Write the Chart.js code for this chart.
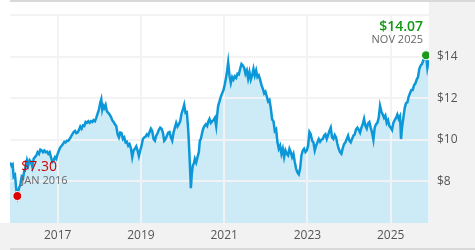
<!DOCTYPE html>
<html>
<head>
<meta charset="utf-8">
<script src="https://cdn.jsdelivr.net/npm/chart.js@4.4.1/dist/chart.umd.min.js"></script>
<style>
  html, body { margin: 0; padding: 0; background: #ffffff; }
  #wrap { width: 475px; height: 250px; }
</style>
</head>
<body>
<div id="wrap"><canvas id="c" width="475" height="250"></canvas></div>
<script>
// Decimal-year dates and prices
const dates = [
2015.856,2015.896,2015.920,2015.944,2015.976,2016.008,2016.032,2016.072,2016.104,2016.136,
2016.168,2016.200,2016.232,2016.264,2016.296,2016.328,2016.360,2016.392,2016.424,2016.456,
2016.488,2016.520,2016.552,2016.584,2016.616,2016.648,2016.680,2016.712,2016.744,2016.776,
2016.808,2016.840,2016.872,2016.904,2016.936,2016.968,2017.000,2017.032,2017.064,2017.096,
2017.128,2017.160,2017.192,2017.224,2017.256,2017.288,2017.320,2017.352,2017.384,2017.416,
2017.448,2017.480,2017.512,2017.544,2017.576,2017.608,2017.640,2017.672,2017.704,2017.736,
2017.768,2017.800,2017.832,2017.864,2017.896,2017.928,2017.960,2017.992,2018.024,2018.048,
2018.072,2018.096,2018.120,2018.152,2018.184,2018.216,2018.248,2018.280,2018.312,2018.344,
2018.376,2018.408,2018.440,2018.472,2018.504,2018.536,2018.568,2018.600,2018.632,2018.664,
2018.696,2018.728,2018.760,2018.792,2018.824,2018.856,2018.888,2018.920,2018.952,2018.984,
2019.016,2019.048,2019.080,2019.112,2019.144,2019.176,2019.208,2019.240,2019.272,2019.304,
2019.336,2019.368,2019.400,2019.432,2019.464,2019.496,2019.528,2019.560,2019.592,2019.624,
2019.656,2019.688,2019.720,2019.752,2019.784,2019.816,2019.848,2019.880,2019.912,2019.944,
2019.976,2020.008,2020.040,2020.072,2020.104,2020.136,2020.160,2020.184,2020.200,2020.224,
2020.248,2020.272,2020.296,2020.328,2020.360,2020.392,2020.416,2020.440,2020.472,2020.496,
2020.528,2020.560,2020.592,2020.616,2020.648,2020.680,2020.712,2020.744,2020.776,2020.808,
2020.832,2020.856,2020.888,2020.920,2020.952,2020.984,2021.016,2021.048,2021.072,2021.096,
2021.128,2021.160,2021.192,2021.224,2021.256,2021.288,2021.320,2021.352,2021.384,2021.416,
2021.448,2021.480,2021.512,2021.544,2021.576,2021.608,2021.640,2021.672,2021.704,2021.736,
2021.768,2021.800,2021.832,2021.864,2021.896,2021.928,2021.960,2021.992,2022.024,2022.056,
2022.088,2022.120,2022.152,2022.184,2022.216,2022.248,2022.280,2022.312,2022.344,2022.376,
2022.408,2022.440,2022.472,2022.504,2022.536,2022.568,2022.600,2022.632,2022.664,2022.696,
2022.728,2022.760,2022.792,2022.824,2022.856,2022.888,2022.920,2022.952,2022.984,2023.016,
2023.048,2023.080,2023.112,2023.144,2023.176,2023.208,2023.240,2023.272,2023.304,2023.336,
2023.368,2023.400,2023.432,2023.464,2023.496,2023.528,2023.560,2023.592,2023.624,2023.656,
2023.688,2023.720,2023.752,2023.784,2023.816,2023.848,2023.880,2023.912,2023.944,2023.976,
2024.008,2024.040,2024.072,2024.104,2024.136,2024.168,2024.200,2024.232,2024.264,2024.296,
2024.328,2024.360,2024.392,2024.424,2024.456,2024.488,2024.520,2024.552,2024.584,2024.616,
2024.648,2024.680,2024.712,2024.744,2024.776,2024.808,2024.840,2024.872,2024.904,2024.936,
2024.968,2025.000,2025.032,2025.064,2025.096,2025.128,2025.160,2025.192,2025.224,2025.248,
2025.272,2025.304,2025.336,2025.368,2025.400,2025.432,2025.464,2025.496,2025.528,2025.560,
2025.592,2025.624,2025.656,2025.688,2025.720,2025.752,2025.784,2025.816,2025.848,2025.880,
2025.912
];
const prices = [
8.91,8.75,8.81,8.23,8.31,7.60,7.30,7.68,7.84,8.23,
8.15,8.54,8.70,9.02,8.78,9.02,8.94,8.70,9.09,9.17,
9.25,9.41,9.33,9.53,9.49,9.41,9.49,9.41,9.44,9.33,
9.41,9.17,8.94,9.02,9.17,9.09,9.33,9.49,9.64,9.72,
9.80,9.91,9.88,9.96,9.96,10.04,10.16,10.27,10.38,10.43,
10.32,10.35,10.48,10.64,10.54,10.70,10.67,10.86,10.82,10.90,
10.82,10.90,10.86,10.95,10.90,11.06,11.26,11.45,11.80,11.96,
11.45,11.64,11.53,11.69,11.37,11.30,11.22,11.11,10.95,10.86,
10.75,10.67,10.27,10.12,10.35,10.32,10.04,10.12,9.88,9.91,
9.72,9.80,9.60,9.17,9.49,9.57,9.69,9.49,9.22,9.49,
9.72,10.04,10.12,10.16,10.27,10.20,10.38,10.54,10.43,10.04,
9.96,10.20,10.32,10.48,10.59,10.54,10.35,9.96,10.04,10.20,
10.35,10.38,10.12,9.96,10.35,10.59,10.82,10.64,10.75,10.90,
11.26,11.45,11.69,11.30,11.33,10.51,9.57,8.47,7.68,8.39,
8.78,8.86,9.09,8.91,9.17,9.41,9.96,10.04,10.35,10.54,
10.67,10.75,10.67,10.86,11.01,10.82,10.90,10.95,11.06,10.67,
11.22,11.64,11.85,12.08,12.24,12.40,12.68,13.02,13.34,13.73,
13.10,12.74,13.02,12.90,13.06,12.99,13.18,13.15,13.42,13.65,
13.58,13.47,13.18,13.34,12.95,13.26,12.90,13.10,13.42,13.10,
13.34,13.02,13.10,12.90,12.63,12.47,12.24,12.32,12.08,11.85,
11.92,11.53,10.98,10.90,10.43,10.51,9.88,9.57,9.72,9.33,
9.57,9.17,9.49,9.33,9.25,9.57,9.41,9.17,9.33,8.94,
8.62,8.43,8.34,8.62,9.25,9.49,9.57,9.41,9.49,9.72,
10.38,10.27,9.96,9.88,9.49,9.72,9.88,10.04,9.91,10.01,
10.04,10.20,10.27,10.04,10.23,10.43,10.59,10.12,10.04,10.23,
10.12,9.80,9.57,9.41,9.33,9.60,9.80,9.88,10.04,10.20,
9.96,9.88,10.04,10.20,10.27,10.51,10.59,10.48,10.35,10.59,
10.75,11.01,10.67,10.54,10.79,10.86,10.59,10.35,10.01,10.59,
10.75,10.82,11.06,11.64,11.37,11.22,11.06,11.17,10.82,10.95,
10.67,10.59,10.48,10.82,10.95,11.06,11.22,11.01,11.14,10.04,
10.59,11.06,11.53,11.77,11.80,12.08,12.24,12.40,12.40,12.63,
12.71,12.90,13.02,13.42,13.58,13.65,13.84,13.89,14.07,13.47,
13.84
];
const xTickYears = [2017, 2019, 2021, 2023, 2025];
const yTickValues = [8, 10, 12, 14];
const yGridValues = [8, 10, 12, 14, 16];
const xRange = [2015.856, 2025.92];
const yRange = [6, 16];
const lowLabel = ["$7.30", "JAN 2016"];
const highLabel = ["$14.07", "NOV 2025"];

const lowIdx = prices.indexOf(Math.min(...prices));
const highIdx = prices.indexOf(Math.max(...prices));
const points = dates.map((d, i) => ({ x: d, y: prices[i] }));

const FONT = "'Open Sans', 'Noto Sans', sans-serif";

const frame = {
  id: 'frame',
  beforeDraw(chart) {
    const ctx = chart.ctx, a = chart.chartArea, W = chart.width, H = chart.height;
    ctx.save();
    ctx.fillStyle = '#ffffff';
    ctx.fillRect(0, 0, W, H);
    ctx.fillStyle = '#f2f2f2';
    ctx.fillRect(a.right, 0, W - a.right, H);
    ctx.fillRect(0, a.bottom, W, H - a.bottom);
    ctx.fillStyle = '#d9d9d9';
    ctx.fillRect(a.left, 0, W - a.left, 2);
    ctx.fillRect(a.left, H - 2, W - a.left, 2);
    ctx.restore();
  },
  afterDatasetDraw(chart, args) {
    if (args.index !== 1) return;
    const ctx = chart.ctx, a = chart.chartArea;
    const xs = chart.scales.x, ys = chart.scales.y;
    ctx.save();
    ctx.strokeStyle = 'rgba(242,242,242,0.95)';
    ctx.lineWidth = 2;
    ctx.beginPath();
    yGridValues.forEach(v => {
      const y = Math.round(ys.getPixelForValue(v));
      ctx.moveTo(a.left, y); ctx.lineTo(a.right, y);
    });
    xTickYears.forEach(v => {
      const x = Math.round(xs.getPixelForValue(v));
      ctx.moveTo(x, a.top); ctx.lineTo(x, a.bottom);
    });
    ctx.stroke();
    ctx.restore();
  },
  afterDraw(chart) {
    const ctx = chart.ctx;
    const xs = chart.scales.x, ys = chart.scales.y;
    ctx.save();
    const hx = xs.getPixelForValue(dates[highIdx]);
    const hy = ys.getPixelForValue(prices[highIdx]);
    ctx.textAlign = 'right';
    ctx.textBaseline = 'alphabetic';
    ctx.fillStyle = '#129a12';
    ctx.font = '600 14px ' + FONT;
    ctx.fillText(highLabel[0], hx - 3, hy - 24);
    ctx.fillStyle = '#666666';
    ctx.font = '11px ' + FONT;
    ctx.fillText(highLabel[1], hx - 3, hy - 12);
    const lx = xs.getPixelForValue(dates[lowIdx]);
    const ly = ys.getPixelForValue(prices[lowIdx]);
    ctx.textAlign = 'left';
    ctx.fillStyle = '#d40000';
    ctx.font = '14px ' + FONT;
    ctx.fillText(lowLabel[0], lx + 4, ly - 25);
    ctx.fillStyle = '#666666';
    ctx.font = '11px ' + FONT;
    ctx.fillText(lowLabel[1], lx + 4, ly - 12);
    ctx.restore();
  }
};

new Chart(document.getElementById('c'), {
  type: 'line',
  data: {
    datasets: [
      {
        data: points,
        borderColor: '#0c98d8',
        borderWidth: 2.5,
        fill: false,
        tension: 0,
        pointRadius: ctx => (ctx.dataIndex === lowIdx || ctx.dataIndex === highIdx) ? 4.5 : 0,
        pointBackgroundColor: ctx => ctx.dataIndex === lowIdx ? '#dd0000' : '#1a9a1a',
        pointBorderColor: '#ffffff',
        pointBorderWidth: 1
      },
      {
        data: points,
        borderWidth: 0,
        borderColor: 'rgba(0,0,0,0)',
        backgroundColor: '#cdeaf7',
        fill: 'start',
        tension: 0,
        pointRadius: 0
      }
    ]
  },
  options: {
    responsive: false,
    animation: false,
    events: [],
    layout: { padding: { left: 10, top: 10, right: 0, bottom: 2 } },
    plugins: { legend: { display: false }, tooltip: { enabled: false } },
    scales: {
      x: {
        type: 'linear',
        min: xRange[0],
        max: xRange[1],
        border: { display: false },
        grid: { display: false, drawTicks: false },
        afterBuildTicks: s => { s.ticks = xTickYears.map(v => ({ value: v })); },
        afterFit: s => { s.height = 25; },
        ticks: {
          padding: 5,
          maxRotation: 0,
          autoSkip: false,
          color: '#555555',
          font: { family: FONT, size: 12 },
          callback: v => String(v)
        }
      },
      y: {
        position: 'right',
        min: yRange[0],
        max: yRange[1],
        border: { display: false },
        grid: { display: false, drawTicks: false },
        afterBuildTicks: s => { s.ticks = yTickValues.map(v => ({ value: v })); },
        afterFit: s => { s.width = 46; },
        ticks: {
          padding: 8,
          color: '#555555',
          font: { family: FONT, size: 12 },
          callback: v => '$' + v
        }
      }
    }
  },
  plugins: [frame]
});
</script>
</body>
</html>
